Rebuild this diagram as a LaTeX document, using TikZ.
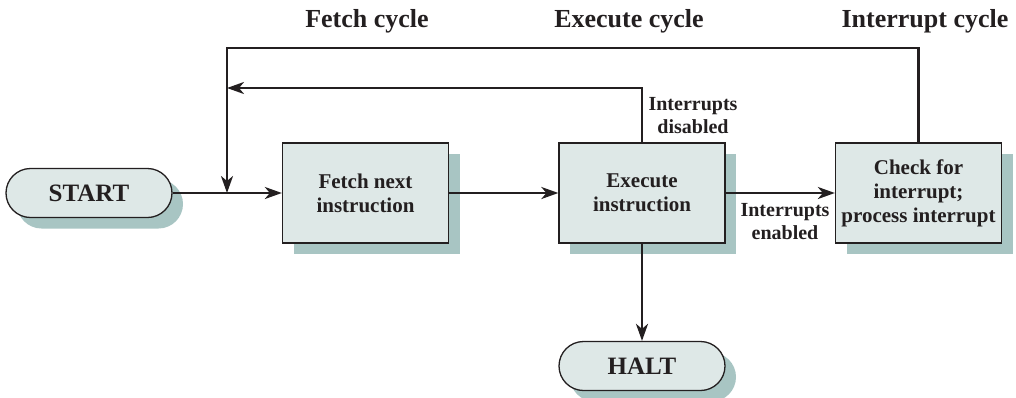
\documentclass[tikz,border=0pt]{standalone}
\usepackage{fontspec}
\setmainfont{Liberation Serif}
\usetikzlibrary{shadows,arrows.meta}
\definecolor{boxfill}{RGB}{222,232,231}
\definecolor{boxshadow}{RGB}{168,197,195}
\definecolor{ink}{RGB}{35,31,32}
\begin{document}
\begin{tikzpicture}[x=1pt,y=-1pt,
    blocco/.style={draw=ink, line width=1.3pt, fill=boxfill, minimum width=166pt,
        minimum height=100pt, inner sep=0pt, align=center, text=ink,
        font=\fontsize{21}{24}\selectfont\bfseries,
        drop shadow={shadow xshift=11pt, shadow yshift=-11pt, fill=boxshadow, opacity=1}},
    terminale/.style={blocco, rounded corners=24.5pt, minimum height=49pt,
        font=\fontsize{25}{28}\selectfont\bfseries},
    linea/.style={draw=ink, line width=2.4pt},
    freccia/.style={linea, -{Stealth[length=17pt,width=12pt,inset=5pt]}},
    etichetta/.style={align=center, text=ink, font=\fontsize{20}{23}\selectfont\bfseries},
    titolo/.style={text=ink, font=\fontsize{26}{28}\selectfont\bfseries}]
    \useasboundingbox (0,0) rectangle (1016,397);

    % titoli
    \node[titolo] (tfetch) at (367,21) {Fetch cycle};
    \node[titolo] (texec) at (629,21) {Execute cycle};
    \node[titolo] (tint) at (925,21) {Interrupt cycle};

    % blocchi
    \node[terminale] (start) at (89,193) {START};
    \node[blocco] (fetch) at (365.5,193) {Fetch next\\instruction};
    \node[blocco] (exec) at (642,193) {Execute\\instruction};
    \node[blocco] (check) at (918.5,193) {Check for\\interrupt;\\process interrupt};
    \node[terminale] (halt) at (642,366) {HALT};

    % punti di ritorno
    \coordinate (nodo) at (227,193);
    \coordinate (rit) at (227,88);
    \coordinate (alto) at (227,48);

    % frecce
    \draw[linea] (start) -- (nodo);
    \draw[freccia] (nodo) -- (fetch);
    \draw[freccia] (fetch) -- (exec);
    \draw[freccia] (exec) -- (check);
    \draw[freccia] (exec) -- (halt);
    \draw[freccia] (exec.north) |- (rit);
    \draw[freccia] (check.north) |- (alto) -- (nodo);

    % etichette
    \node[etichetta] (disab) at (693,116) {Interrupts\\disabled};
    \node[etichetta] (enab) at (785,222) {Interrupts\\enabled};
\end{tikzpicture}
\end{document}
